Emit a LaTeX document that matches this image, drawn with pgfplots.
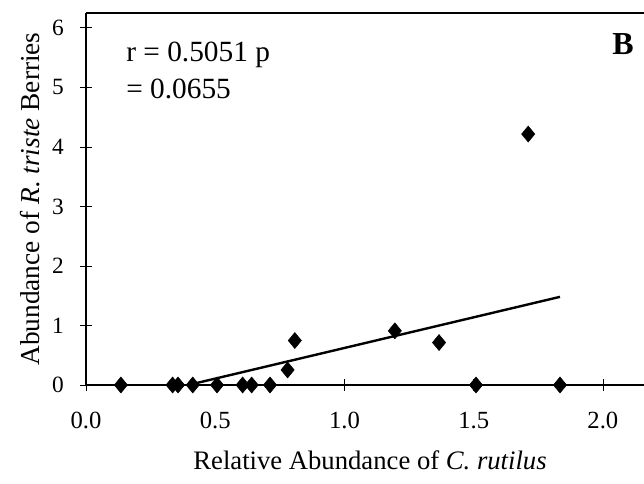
\documentclass[border=0pt]{standalone}
\usepackage{pgfplots}
\pgfplotsset{compat=1.18}
\usepackage{fontspec}
\setmainfont{Liberation Serif}

% Relative abundance of C. rutilus vs. abundance of R. triste berries
\pgfplotstableread{
x      y
0.135  0
0.335  0
0.356  0
0.413  0
0.507  0
0.606  0
0.641  0
0.712  0
0.780  0.253
0.808  0.747
1.195  0.910
1.366  0.713
1.509  0
1.711  4.216
1.834  0
}\berries

% least-squares trend line (visible part, y >= 0)
\pgfplotstableread{
x      y
0.396  0
1.834  1.481
}\trend

\begin{document}
\begin{tikzpicture}
\begin{axis}[
  name=ax,
  scale only axis,
  width=418.5pt, height=279pt,
  xmin=0, xmax=2.159,
  ymin=0, ymax=6.25,
  axis x line*=bottom,
  axis y line*=left,
  axis line style={line width=1.6pt, -},
  clip=false,
  xtick={0,0.5,1,1.5,2},
  ytick={0,1,2,3,4,5,6},
  tick align=center,
  major tick length=9pt,
  tick style={line width=0.6pt, black},
  xticklabel style={/pgf/number format/fixed, /pgf/number format/fixed zerofill,
    /pgf/number format/precision=1, /pgf/number format/assume math mode=true,
    font=\fontsize{18.5}{21}\selectfont, anchor=north, inner sep=0pt, yshift=-16pt},
  yticklabel style={/pgf/number format/assume math mode=true,
    font=\fontsize{17.5}{20}\selectfont, anchor=east, inner sep=0pt, xshift=-12pt},
  xlabel={Relative Abundance of \textit{C. rutilus}},
  ylabel={Abundance of \textit{R. triste} Berries},
  xlabel style={font=\fontsize{20}{24}\selectfont, at={(axis description cs:0.509,-0.2285)}, anchor=base},
  ylabel style={font=\fontsize{20.5}{24}\selectfont, at={(axis description cs:-0.1004,0.5)}, anchor=center},
]
  % top frame line
  \draw[line width=1.6pt] (rel axis cs:0,1) -- (rel axis cs:1,1);

  \addplot[black, line width=1.8pt] table[x=x, y=y] {\trend};
  \addplot[only marks, mark=diamond*, mark size=6pt, mark options={xscale=1.1}, black] table[x=x, y=y] {\berries};

  \node[anchor=west, inner sep=0pt, font=\fontsize{22}{26}\selectfont] at (axis cs:0.155,5.55) {r = 0.5051 p};
  \node[anchor=west, inner sep=0pt, font=\fontsize{22}{26}\selectfont] at (axis cs:0.155,4.98) {= 0.0655};
  \node[inner sep=0pt, font=\fontsize{24}{28}\selectfont\bfseries] at (axis cs:2.078,5.73) {B};
\end{axis}
\pgfresetboundingbox
\path ([xshift=-64.5pt,yshift=-74.25pt]ax.south west) rectangle ([yshift=9.75pt]ax.north east);
\end{tikzpicture}
\end{document}
